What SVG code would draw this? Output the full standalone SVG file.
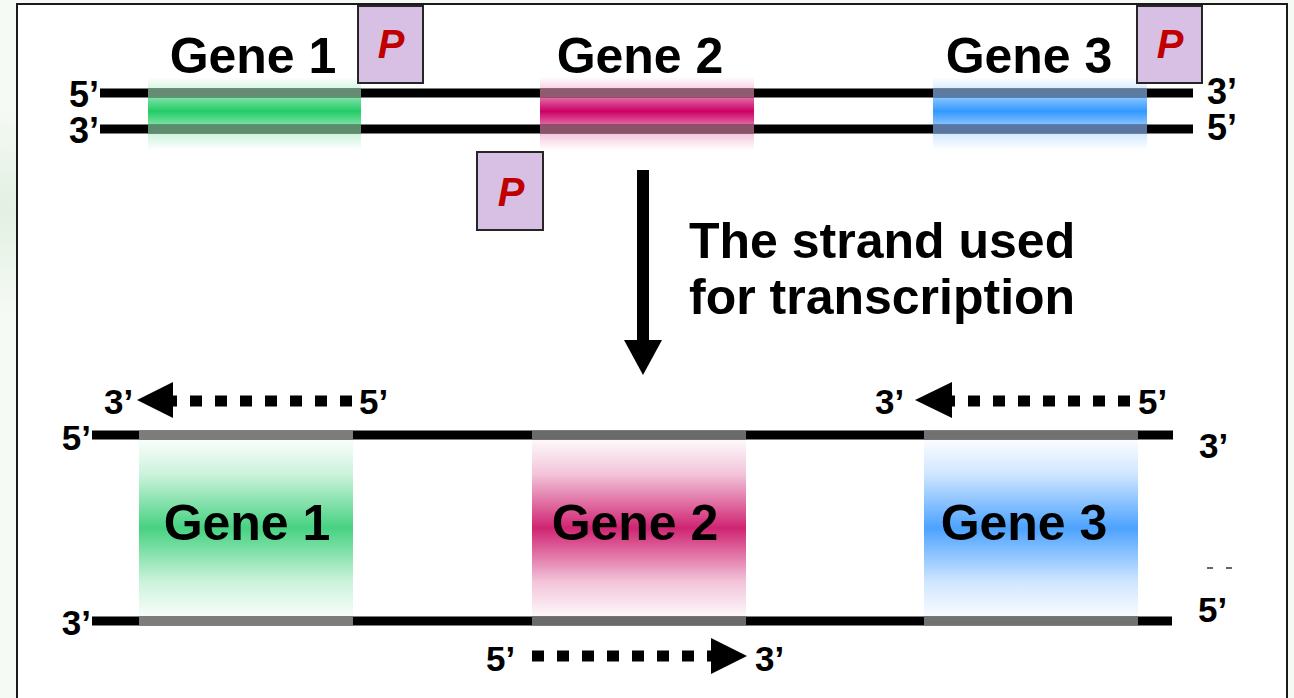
<svg xmlns="http://www.w3.org/2000/svg" width="1294" height="698" viewBox="0 0 1294 698">
<defs>
<style>
.lbl{font-family:"Liberation Sans",Arial,sans-serif;font-weight:bold;fill:#000}
.gene{font-size:50px;text-anchor:middle}
.end{font-size:36px}
.sm{font-size:35px}
.strand{stroke:#000;stroke-width:9;fill:none}
.pbox{fill:#d8c0e4;stroke:#262626;stroke-width:2}
.ptxt{font-family:"Liberation Sans",Arial,sans-serif;font-weight:bold;font-style:italic;font-size:40px;fill:#c00000;text-anchor:middle}
.dots{stroke:#000;stroke-width:11;stroke-dasharray:12 13;fill:none}
</style>
<linearGradient id="tg" x1="0" y1="0" x2="0" y2="1">
<stop offset="0" stop-color="#22cc66" stop-opacity="0"/>
<stop offset="0.16" stop-color="#22cc66" stop-opacity="0.18"/>
<stop offset="0.29" stop-color="#22cc66" stop-opacity="0.6"/>
<stop offset="0.47" stop-color="#22cc66" stop-opacity="1"/>
<stop offset="0.65" stop-color="#22cc66" stop-opacity="0.6"/>
<stop offset="0.78" stop-color="#22cc66" stop-opacity="0.22"/>
<stop offset="1" stop-color="#22cc66" stop-opacity="0"/>
</linearGradient>
<linearGradient id="tm" x1="0" y1="0" x2="0" y2="1">
<stop offset="0" stop-color="#cc0066" stop-opacity="0"/>
<stop offset="0.16" stop-color="#cc0066" stop-opacity="0.18"/>
<stop offset="0.29" stop-color="#cc0066" stop-opacity="0.6"/>
<stop offset="0.47" stop-color="#cc0066" stop-opacity="1"/>
<stop offset="0.65" stop-color="#cc0066" stop-opacity="0.6"/>
<stop offset="0.78" stop-color="#cc0066" stop-opacity="0.22"/>
<stop offset="1" stop-color="#cc0066" stop-opacity="0"/>
</linearGradient>
<linearGradient id="tb" x1="0" y1="0" x2="0" y2="1">
<stop offset="0" stop-color="#3399ff" stop-opacity="0"/>
<stop offset="0.16" stop-color="#3399ff" stop-opacity="0.18"/>
<stop offset="0.29" stop-color="#3399ff" stop-opacity="0.6"/>
<stop offset="0.47" stop-color="#3399ff" stop-opacity="1"/>
<stop offset="0.65" stop-color="#3399ff" stop-opacity="0.6"/>
<stop offset="0.78" stop-color="#3399ff" stop-opacity="0.22"/>
<stop offset="1" stop-color="#3399ff" stop-opacity="0"/>
</linearGradient>
<linearGradient id="bg" x1="0" y1="0" x2="0" y2="1">
<stop offset="0" stop-color="#2ecc71" stop-opacity="0.02"/>
<stop offset="0.2" stop-color="#2ecc71" stop-opacity="0.25"/>
<stop offset="0.5" stop-color="#2ecc71" stop-opacity="0.88"/>
<stop offset="0.8" stop-color="#2ecc71" stop-opacity="0.25"/>
<stop offset="1" stop-color="#2ecc71" stop-opacity="0.03"/>
</linearGradient>
<linearGradient id="bm" x1="0" y1="0" x2="0" y2="1">
<stop offset="0" stop-color="#cc1166" stop-opacity="0.02"/>
<stop offset="0.2" stop-color="#cc1166" stop-opacity="0.25"/>
<stop offset="0.5" stop-color="#cc1166" stop-opacity="0.92"/>
<stop offset="0.8" stop-color="#cc1166" stop-opacity="0.25"/>
<stop offset="1" stop-color="#cc1166" stop-opacity="0.03"/>
</linearGradient>
<linearGradient id="bb" x1="0" y1="0" x2="0" y2="1">
<stop offset="0" stop-color="#3d9aff" stop-opacity="0.02"/>
<stop offset="0.2" stop-color="#3d9aff" stop-opacity="0.25"/>
<stop offset="0.5" stop-color="#3d9aff" stop-opacity="0.92"/>
<stop offset="0.8" stop-color="#3d9aff" stop-opacity="0.25"/>
<stop offset="1" stop-color="#3d9aff" stop-opacity="0.03"/>
</linearGradient>
<radialGradient id="bgl" cx="0" cy="0.3" r="0.15">
<stop offset="0" stop-color="#e2f0e2"/>
<stop offset="1" stop-color="#f6faf5"/>
</radialGradient>
</defs>

<rect x="0" y="0" width="1294" height="698" fill="#f6faf5"/>
<rect x="0" y="0" width="1294" height="698" fill="url(#bgl)"/>
<rect id="panel" x="17" y="4" width="1270" height="720" fill="#fff" stroke="#1a1a1a" stroke-width="2"/>

<g id="top-duplex">
<line class="strand" x1="100" y1="93" x2="1193" y2="93"/>
<line class="strand" x1="100" y1="129" x2="1193" y2="129"/>
<text class="lbl end" x="99" y="107" text-anchor="end">5’</text>
<text class="lbl end" x="99" y="143" text-anchor="end">3’</text>
<text class="lbl end" x="1207" y="104">3’</text>
<text class="lbl end" x="1207" y="140">5’</text>
</g>

<g id="top-gene1">
<rect x="148" y="77" width="213" height="73" fill="url(#tg)"/>
<rect x="148" y="89" width="213" height="8.5" fill="#668c76"/>
<rect x="148" y="124.5" width="213" height="8.5" fill="#5e8a6e"/>
<text class="lbl gene" x="253" y="73">Gene 1</text>
</g>
<g id="top-gene2">
<rect x="540" y="77" width="214" height="73" fill="url(#tm)"/>
<rect x="540" y="89" width="214" height="8.5" fill="#8e5c6e"/>
<rect x="540" y="124.5" width="214" height="8.5" fill="#8a5468"/>
<text class="lbl gene" x="640" y="73">Gene 2</text>
</g>
<g id="top-gene3">
<rect x="933" y="77" width="214" height="73" fill="url(#tb)"/>
<rect x="933" y="89" width="214" height="8.5" fill="#5d7aa2"/>
<rect x="933" y="124.5" width="214" height="8.5" fill="#5a76a0"/>
<text class="lbl gene" x="1029" y="73">Gene 3</text>
</g>

<g id="promoter1">
<rect class="pbox" x="358" y="6" width="65" height="77"/>
<text class="ptxt" x="391" y="58">P</text>
</g>
<g id="promoter2">
<rect class="pbox" x="477" y="152" width="66" height="78"/>
<text class="ptxt" x="511" y="206">P</text>
</g>
<g id="promoter3">
<rect class="pbox" x="1137" y="6" width="65" height="77"/>
<text class="ptxt" x="1170" y="58">P</text>
</g>

<g id="caption">
<text class="lbl" font-size="50" x="689" y="258">The strand used</text>
<text class="lbl" font-size="50" x="689" y="314">for transcription</text>
</g>

<g id="bottom-duplex">
<line class="strand" x1="92" y1="435" x2="1173" y2="435"/>
<line class="strand" x1="92" y1="621" x2="1172" y2="621"/>
<text class="lbl sm" x="91" y="450" text-anchor="end">5’</text>
<text class="lbl sm" x="91" y="635" text-anchor="end">3’</text>
<text class="lbl sm" x="1199" y="458">3’</text>
<text class="lbl sm" x="1198" y="622">5’</text>
<line x1="1207" y1="568" x2="1213" y2="568" stroke="#333" stroke-width="1.5"/>
<line x1="1226" y1="568" x2="1232" y2="568" stroke="#333" stroke-width="1.5"/>
</g>

<g id="bottom-gene1">
<rect x="139" y="439" width="214" height="178" fill="url(#bg)"/>
<rect x="139" y="431" width="214" height="8.5" fill="#7c7c7c"/>
<rect x="139" y="616.5" width="214" height="8.5" fill="#7c7c7c"/>
<text class="lbl gene" x="247" y="540">Gene 1</text>
</g>
<g id="bottom-gene2">
<rect x="532" y="439" width="214" height="178" fill="url(#bm)"/>
<rect x="532" y="431" width="214" height="8.5" fill="#6a6a6a"/>
<rect x="532" y="616.5" width="214" height="8.5" fill="#6a6a6a"/>
<text class="lbl gene" x="635" y="540">Gene 2</text>
</g>
<g id="bottom-gene3">
<rect x="924" y="439" width="214" height="178" fill="url(#bb)"/>
<rect x="924" y="431" width="214" height="8.5" fill="#717171"/>
<rect x="924" y="616.5" width="214" height="8.5" fill="#717171"/>
<text class="lbl gene" x="1024" y="540">Gene 3</text>
</g>

<g id="connectors">
<rect x="637" y="170" width="12" height="172"/>
<polygon points="624,340 662,340 643,375"/>
<line class="dots" x1="352" y1="401" x2="170" y2="401"/>
<polygon points="137,400 173,382 173,418"/>
<line class="dots" x1="1130" y1="401" x2="949" y2="401"/>
<polygon points="915,400 952,382 952,418"/>
<line class="dots" x1="532" y1="656" x2="714" y2="656"/>
<polygon points="747,656 711,638 711,674"/>
<text class="lbl sm" x="104" y="414">3’</text>
<text class="lbl sm" x="359" y="414">5’</text>
<text class="lbl sm" x="875" y="414">3’</text>
<text class="lbl sm" x="1138" y="414">5’</text>
<text class="lbl sm" x="486" y="671">5’</text>
<text class="lbl sm" x="755" y="671">3’</text>
</g>
</svg>
